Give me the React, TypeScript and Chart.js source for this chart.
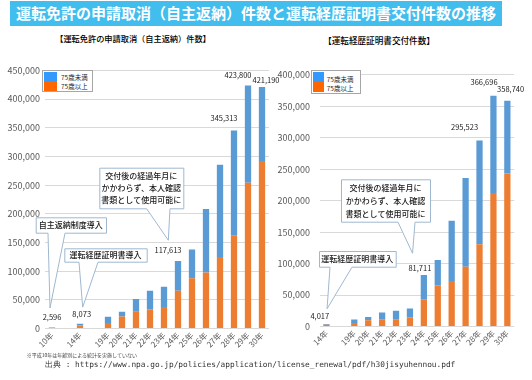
import React, { useEffect, useRef } from "react";
import { Chart, registerables } from "chart.js";
Chart.register(...registerables);

const FONT = '"Noto Sans CJK JP", "Noto Sans", sans-serif';

// ---- Left chart: 運転免許の申請取消（自主返納）件数 ----
const leftCategories = ["10年", "", "14年", "", "19年", "20年", "21年", "22年", "23年", "24年", "25年", "26年", "27年", "28年", "29年", "30年"];
const leftOver75 = [null, null, 5200, null, 9400, 21000, 29000, 33300, 37400, 65600, 87800, 97500, 124500, 162800, 253937, 292089];
const leftUnder75 = [2596, null, 2873, null, 10904, 8150, 22568, 32305, 35335, 52013, 50137, 110914, 161014, 182513, 169863, 129101];
const leftYMax = 450000;
const leftLabelled = [0, 2, 9, 13, 14, 15];

// ---- Right chart: 運転経歴証明書交付件数 ----
const rightCategories = ["14年", "", "19年", "20年", "21年", "22年", "23年", "24年", "25年", "26年", "27年", "28年", "29年", "30年"];
const rightOver75 = [2800, null, 5400, 9800, 11400, 11400, 14200, 43500, 65100, 72200, 95000, 130800, 212200, 243200];
const rightUnder75 = [1217, null, 5800, 5400, 10900, 13600, 14600, 38211, 40800, 96100, 141000, 164723, 154496, 115540];
const rightYMax = 400000;
const rightLabelled = [0, 7, 11, 12, 13];

const seriesNames = ["75歳以上", "75歳未満"];
const calloutTexts = {
  jishu: ["自主返納制度導入"],
  keireki: ["運転経歴証明書導入"],
  kofu: ["交付後の経過年月に", "かかわらず、本人確認", "書類として使用可能に"],
};

type Callout = {
  lines: string[];
  box: [number, number, number, number]; // page coords
  base: [number, number];
  index: number;
  dx: number;
  dy: number;
  lineH: number;
};

type Spec = {
  categories: string[];
  over: (number | null)[];
  under: (number | null)[];
  underColors: string[] | string;
  yMax: number;
  labelled: number[];
  labelOffsets: [number, number][];
  callouts: Callout[];
  left: number;
  top: number;
  width: number;
  height: number;
  padTop: number;
  padRight: number;
  yWidth: number;
  xHeight: number;
  yPad: number;
};

function annotPlugin(spec: Spec) {
  return {
    id: "annot",
    afterDatasetsDraw(chart: any) {
      const ctx: CanvasRenderingContext2D = chart.ctx;
      const xs = chart.scales.x;
      const ys = chart.scales.y;
      const total = (i: number) => (spec.over[i] || 0) + (spec.under[i] || 0);
      ctx.save();
      for (const c of spec.callouts) {
        const [bx, by, bw, bh] = c.box;
        const x = bx - spec.left, y = by - spec.top;
        const b1 = c.base[0] - spec.left, b2 = c.base[1] - spec.left;
        const tx = xs.getPixelForValue(c.index) + c.dx;
        const ty = ys.getPixelForValue(total(c.index)) + c.dy;
        ctx.beginPath();
        ctx.moveTo(x + 0.5, y + 0.5);
        ctx.lineTo(x + bw + 0.5, y + 0.5);
        ctx.lineTo(x + bw + 0.5, y + bh + 0.5);
        ctx.lineTo(b2, y + bh + 0.5);
        ctx.lineTo(tx, ty);
        ctx.lineTo(b1, y + bh + 0.5);
        ctx.lineTo(x + 0.5, y + bh + 0.5);
        ctx.closePath();
        ctx.fillStyle = "#ffffff";
        ctx.fill();
        ctx.strokeStyle = "#9fb8d0";
        ctx.lineWidth = 1;
        ctx.stroke();
        ctx.fillStyle = "#1a1a1a";
        ctx.font = `500 8px ${FONT}`;
        ctx.textAlign = "center";
        ctx.textBaseline = "middle";
        const cy = y + bh / 2;
        const n = c.lines.length;
        c.lines.forEach((ln, k) => {
          ctx.fillText(ln, x + bw / 2, cy + (k - (n - 1) / 2) * c.lineH);
        });
      }
      ctx.fillStyle = "#1a1a1a";
      ctx.font = `7.5px ${FONT}`;
      ctx.textAlign = "center";
      ctx.textBaseline = "middle";
      spec.labelled.forEach((i, k) => {
        const [dx, dy] = spec.labelOffsets[k];
        const t = total(i);
        ctx.fillText(t.toLocaleString("en-US"), xs.getPixelForValue(i) + dx, ys.getPixelForValue(t) + dy);
      });
      ctx.restore();
    },
  };
}

function buildConfig(spec: Spec): any {
  return {
    type: "bar",
    data: {
      labels: spec.categories,
      datasets: [
        { label: seriesNames[0], data: spec.over, backgroundColor: "#ed7d31", barPercentage: 0.45, categoryPercentage: 1, borderWidth: 0 },
        { label: seriesNames[1], data: spec.under, backgroundColor: spec.underColors, barPercentage: 0.45, categoryPercentage: 1, borderWidth: 0 },
      ],
    },
    options: {
      animation: false,
      responsive: false,
      devicePixelRatio: 1,
      layout: { padding: { top: spec.padTop, right: spec.padRight, left: 0, bottom: 0 } },
      plugins: { legend: { display: false }, tooltip: { enabled: false } },
      scales: {
        x: {
          stacked: true,
          grid: { display: false, drawTicks: false },
          border: { display: false },
          ticks: { autoSkip: false, maxRotation: 45, minRotation: 45, font: { family: FONT, size: 8 }, color: "#595959", padding: 2 },
          afterFit: (s: any) => { s.height = spec.xHeight; },
        },
        y: {
          stacked: true,
          min: 0,
          max: spec.yMax,
          ticks: { stepSize: 50000, callback: (v: any) => Number(v).toLocaleString("en-US"), font: { family: FONT, size: 9 }, color: "#595959", padding: spec.yPad },
          grid: { color: "#d9d9d9", drawTicks: false },
          border: { display: false },
          afterFit: (s: any) => { s.width = spec.yWidth; },
        },
      },
    },
    plugins: [annotPlugin(spec)],
  };
}

const leftSpec: Spec = {
  categories: leftCategories,
  over: leftOver75,
  under: leftUnder75,
  underColors: leftCategories.map((_, i) => (i === 0 ? "#a9cbea" : "#5b9bd5")),
  yMax: leftYMax,
  labelled: leftLabelled,
  labelOffsets: [[0, -10], [1.7, -9.5], [-10, -11], [-10, -12], [-10, -10.6], [4, -7]],
  callouts: [
    { lines: calloutTexts.jishu, box: [35.7, 217.3, 70.3, 15.4], base: [48, 65], index: 0, dx: -2, dy: -19, lineH: 11.7 },
    { lines: calloutTexts.keireki, box: [64.3, 248.3, 82.4, 13.4], base: [79, 98], index: 2, dx: 2.7, dy: -16.7, lineH: 11.7 },
    { lines: calloutTexts.kofu, box: [99.3, 167.7, 84, 40.6], base: [146.7, 170], index: 9, dx: -9.7, dy: -20.8, lineH: 11.7 },
  ],
  left: 0,
  top: 60,
  width: 290,
  height: 295,
  padTop: 9,
  padRight: 21,
  yWidth: 45,
  xHeight: 26.5,
  yPad: 5,
};

const rightSpec: Spec = {
  categories: rightCategories,
  over: rightOver75,
  under: rightUnder75,
  underColors: "#5b9bd5",
  yMax: rightYMax,
  labelled: rightLabelled,
  labelOffsets: [[-6.7, -7.5], [-4, -7], [-15, -13], [-9.4, -14], [3.3, -11.4]],
  callouts: [
    { lines: calloutTexts.keireki, box: [319, 251, 76.7, 15.7], base: [330, 352], index: 0, dx: 0.6, dy: -15.2, lineH: 13 },
    { lines: calloutTexts.kofu, box: [341, 179.3, 89, 42.4], base: [398, 415], index: 7, dx: -11.3, dy: -21.8, lineH: 13 },
  ],
  left: 270,
  top: 60,
  width: 262,
  height: 295,
  padTop: 10.5,
  padRight: 17.7,
  yWidth: 49.5,
  xHeight: 28.5,
  yPad: 9.5,
};

function BarChart({ spec }: { spec: Spec }) {
  const ref = useRef<HTMLCanvasElement>(null);
  useEffect(() => {
    const chart = new Chart(ref.current as HTMLCanvasElement, buildConfig(spec));
    return () => chart.destroy();
  }, []);
  return (
    <canvas
      ref={ref}
      width={spec.width}
      height={spec.height}
      style={{ position: "absolute", left: spec.left, top: spec.top, width: spec.width, height: spec.height }}
    />
  );
}

function Legend({ x, y, w, h, sw, swH1, swH2, fs, ty1, ty2, tx }: any) {
  return (
    <div style={{ position: "absolute", left: x, top: y, width: w, height: h, border: "1px solid #a6a6a6", background: "#fff", boxSizing: "border-box" }}>
      <div style={{ position: "absolute", left: 1, top: 1, width: sw, height: swH1, background: "#3399ff" }} />
      <div style={{ position: "absolute", left: 1, top: 1 + swH1, width: sw, height: swH2, background: "#ff6600" }} />
      <div style={{ position: "absolute", left: tx, top: ty1 - 5, lineHeight: "10px", fontSize: fs, color: "#262626", whiteSpace: "nowrap" }}>{seriesNames[1]}</div>
      <div style={{ position: "absolute", left: tx, top: ty2 - 5, lineHeight: "10px", fontSize: fs, color: "#262626", whiteSpace: "nowrap" }}>{seriesNames[0]}</div>
    </div>
  );
}

export default function App() {
  return (
    <div style={{ position: "absolute", left: 0, top: 0, width: 532, height: 380, background: "#fff", overflow: "hidden", fontFamily: FONT }}>
      <div style={{ position: "absolute", left: 10, top: 1, width: 492, height: 24.5, background: "#41bdee", color: "#fff", fontWeight: 700, fontSize: 15, lineHeight: "24.5px", textAlign: "center", whiteSpace: "nowrap" }}>
        運転免許の申請取消（自主返納）件数と運転経歴証明書交付件数の推移
      </div>
      <div style={{ position: "absolute", left: 33, top: 32.3, width: 200, fontSize: 8.2, fontWeight: 500, lineHeight: "12px", textAlign: "center", color: "#000", whiteSpace: "nowrap" }}>
        【運転免許の申請取消（自主返納）件数】
      </div>
      <div style={{ position: "absolute", left: 279, top: 34, width: 200, fontSize: 8.6, fontWeight: 500, lineHeight: "12px", textAlign: "center", color: "#000", whiteSpace: "nowrap" }}>
        【運転経歴証明書交付件数】
      </div>
      <BarChart spec={leftSpec} />
      <BarChart spec={rightSpec} />
      <Legend x={42.3} y={70} w={51} h={22.3} sw={12.7} swH1={9} swH2={10.3} fs={6.5} tx={17.7} ty1={5.7} ty2={15} />
      <Legend x={310.7} y={70} w={50} h={24} sw={11.6} swH1={10.4} swH2={9.6} fs={6.5} tx={15} ty1={8.3} ty2={17.3} />
      <div style={{ position: "absolute", left: 26.7, top: 351, fontSize: 5, lineHeight: "7px", color: "#404040", whiteSpace: "nowrap" }}>
        ※平成10年は年齢別による統計を実施していない
      </div>
      <div style={{ position: "absolute", left: 45, top: 360, fontSize: 7.8, lineHeight: "10px", color: "#333", whiteSpace: "nowrap", fontFamily: '"DejaVu Sans Mono", monospace' }}>
        出典 : https://www.npa.go.jp/policies/application/license_renewal/pdf/h30jisyuhennou.pdf
      </div>
    </div>
  );
}
